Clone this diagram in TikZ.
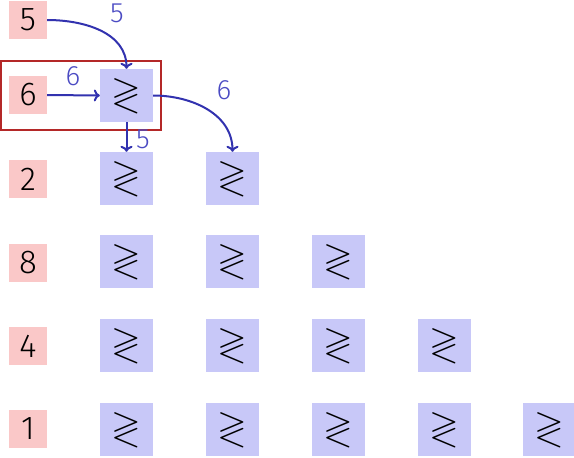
\documentclass[tikz,border=0pt]{standalone}
\usepackage{amssymb}
\usepackage{fontspec}
\setmainfont{Fira Sans}[UprightFont=* Light]
\usetikzlibrary{arrows.meta}
\definecolor{redfill}{RGB}{250,200,200}
\definecolor{bluefill}{RGB}{200,200,248}
\definecolor{arrblue}{RGB}{50,50,175}
\definecolor{lblblue}{RGB}{75,75,195}
\definecolor{frame}{RGB}{180,40,40}
\tikzset{
  lab/.style={fill=redfill, minimum size=38pt, inner sep=0pt, font=\fontsize{33}{33}\selectfont},
  cell/.style={fill=bluefill, minimum size=53pt, inner sep=0pt, font=\fontsize{38}{38}\selectfont},
  arr/.style={draw=arrblue, line width=2pt, -{To[length=6pt,width=12pt]}},
  alab/.style={text=lblblue, inner sep=0pt, font=\fontsize{28}{28}\selectfont},
}
\begin{document}
\begin{tikzpicture}[x=1pt,y=-1pt]
\useasboundingbox (0,0) rectangle (574,458);
% row labels
\node[lab] (l5) at (28,20) {5};
\node[lab] (l6) at (28,95) {6};
\node[lab] (l2) at (28,179) {2};
\node[lab] (l8) at (28,262.5) {8};
\node[lab] (l4) at (28,346) {4};
\node[lab] (l1) at (28,428.5) {1};
% cells
\node[cell] (a1) at (126.5,95.5) {$\gtrless$};
\node[cell] (b1) at (126.5,178.5) {$\gtrless$};
\node[cell] (b2) at (232.5,178.5) {$\gtrless$};
\node[cell] (c1) at (126.5,261.5) {$\gtrless$};
\node[cell] (c2) at (232.5,261.5) {$\gtrless$};
\node[cell] (c3) at (338.5,261.5) {$\gtrless$};
\node[cell] (d1) at (126.5,345.5) {$\gtrless$};
\node[cell] (d2) at (232.5,345.5) {$\gtrless$};
\node[cell] (d3) at (338.5,345.5) {$\gtrless$};
\node[cell] (d4) at (444.5,345.5) {$\gtrless$};
\node[cell] (e1) at (126.5,429.5) {$\gtrless$};
\node[cell] (e2) at (232.5,429.5) {$\gtrless$};
\node[cell] (e3) at (338.5,429.5) {$\gtrless$};
\node[cell] (e4) at (444.5,429.5) {$\gtrless$};
\node[cell] (e5) at (549.5,429.5) {$\gtrless$};
% frame
\draw[frame, line width=2pt] (1,61) rectangle (161,130);
% arrows
\draw[arr] (l5.east) to[out=0,in=90] (a1.north);
\draw[arr] (l6.east) -- (a1.west);
\draw[arr] (a1.east) to[out=0,in=90] (b2.north);
\draw[arr] (a1.south) -- (b1.north);
% arrow labels
\node[alab] (t1) at (117,13) {5};
\node[alab] (t2) at (73,76) {6};
\node[alab] (t3) at (224,90) {6};
\node[alab] (t4) at (143,139) {5};
\end{tikzpicture}
\end{document}
